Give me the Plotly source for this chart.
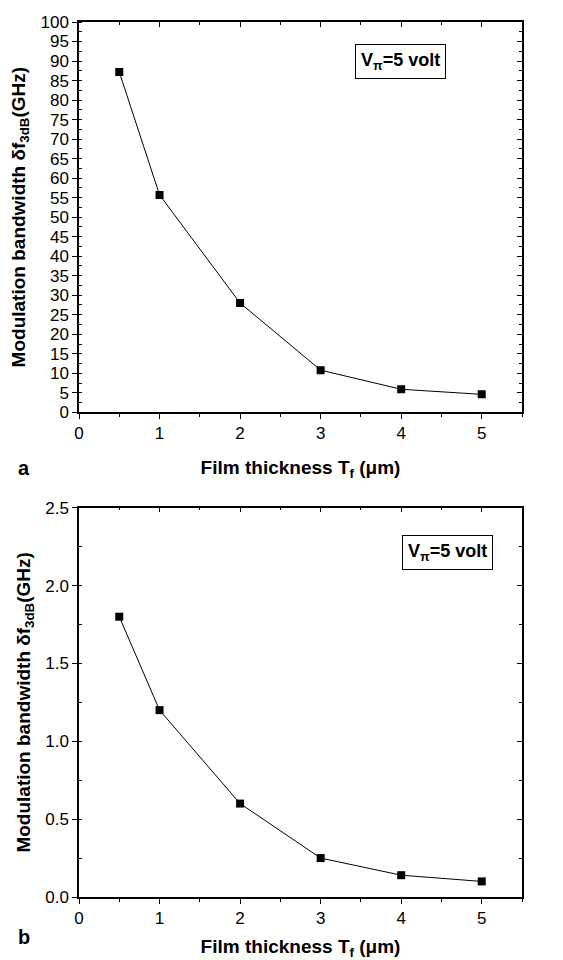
import plotly.graph_objects as go

# Data
thickness = [0.5, 1, 2, 3, 4, 5]
bw_a = [87.2, 55.7, 28.0, 10.8, 5.9, 4.6]
bw_b = [1.80, 1.20, 0.60, 0.25, 0.14, 0.10]

x_title = "<b>Film thickness T<sub>f</sub> (μm)</b>"
y_title = "<b>Modulation bandwidth δf<sub>3dB</sub>(GHz)</b>"
note = "<b>V<sub>π</sub>=5 volt</b>"

W, H = 563, 960
ML, MR, MT, MB = 79, 41, 22, 63
PW, PH = W - ML - MR, H - MT - MB

def py(px):
    return 1 - (px - MT) / PH

def pxx(px):
    return (px - ML) / PW

FONT = "Liberation Sans, Arial, sans-serif"

fig = go.Figure()
line = dict(color="black", width=1)
marker = dict(symbol="square", size=8, color="black")
fig.add_trace(go.Scatter(x=thickness, y=bw_a, mode="lines+markers", line=line,
                         marker=marker, xaxis="x", yaxis="y", showlegend=False))
fig.add_trace(go.Scatter(x=thickness, y=bw_b, mode="lines+markers", line=line,
                         marker=marker, xaxis="x3", yaxis="y3", showlegend=False))

dom_a = [py(412.3), 1.0]
dom_b = [0.0, py(507.7)]

tickfont = dict(family=FONT, size=17, color="black")
titlefont = dict(family=FONT, size=19, color="black")

def bottom_x(anchor):
    return dict(range=[0, 5.5], tickvals=[0, 1, 2, 3, 4, 5], ticks="outside", ticklen=5,
                tickwidth=1.2, tickcolor="black", showline=True, linecolor="black",
                linewidth=1.5, showgrid=False, zeroline=False, anchor=anchor,
                tickfont=tickfont, domain=[0, 1], automargin=False,
                minor=dict(dtick=0.5, tick0=0, ticks="outside", ticklen=3, tickcolor="black", tickwidth=1.2),
                title=dict(text=x_title, font=titlefont, standoff=18))

def top_x(overlay, anchor):
    return dict(range=[0, 5.5], overlaying=overlay, side="top", anchor=anchor,
                tickvals=[0, 1, 2, 3, 4, 5], ticks="inside", ticklen=5, tickwidth=1.2,
                tickcolor="black", showticklabels=False, showline=True, linecolor="black",
                linewidth=1.5, showgrid=False, zeroline=False, automargin=False,
                minor=dict(dtick=0.5, tick0=0, ticks="inside", ticklen=3, tickcolor="black", tickwidth=1.2))

def left_y(rng, dtick, minor, dom, anchor, fmt):
    return dict(range=rng, dtick=dtick, tick0=0, ticks="outside", ticklen=5, tickwidth=1.2,
                tickcolor="black", showline=True, linecolor="black", linewidth=1.5,
                showgrid=False, zeroline=False, domain=dom, anchor=anchor,
                tickfont=tickfont, tickformat=fmt, automargin=False,
                minor=dict(dtick=minor, tick0=0, ticks="inside", ticklen=3, tickcolor="black", tickwidth=1.2),
                title=dict(text=y_title, font=titlefont, standoff=10))

def right_y(rng, dtick, minor, overlay, anchor):
    return dict(range=rng, dtick=dtick, tick0=0, overlaying=overlay, side="right", anchor=anchor,
                ticks="inside", ticklen=5, tickwidth=1.2, tickcolor="black",
                showticklabels=False, showline=True, linecolor="black", linewidth=1.5,
                showgrid=False, zeroline=False, automargin=False,
                minor=dict(dtick=minor, tick0=0, ticks="inside", ticklen=3, tickcolor="black", tickwidth=1.2))

fig.update_layout(
    width=W, height=H,
    margin=dict(l=ML, r=MR, t=MT, b=MB, autoexpand=False),
    paper_bgcolor="white", plot_bgcolor="white",
    font=dict(family=FONT, color="black"),
    xaxis=bottom_x("y"),
    xaxis2=top_x("x", "y"),
    yaxis=left_y([0, 100], 5, 2.5, dom_a, "x", "d"),
    yaxis2=right_y([0, 100], 5, 2.5, "y", "x"),
    xaxis3=bottom_x("y3"),
    xaxis4=top_x("x3", "y3"),
    yaxis3=left_y([0, 2.5], 0.5, 0.25, dom_b, "x3", ".1f"),
    yaxis4=right_y([0, 2.5], 0.5, 0.25, "y3", "x3"),
)

# invisible traces to activate overlay axes
fig.add_trace(go.Scatter(x=[None], y=[None], xaxis="x2", yaxis="y2", showlegend=False))
fig.add_trace(go.Scatter(x=[None], y=[None], xaxis="x4", yaxis="y4", showlegend=False))

fig.add_annotation(text=note, x=3.99, y=89.9, xref="x", yref="y", showarrow=False,
                   font=dict(family=FONT, size=18, color="black"),
                   bordercolor="black", borderwidth=1, borderpad=5, bgcolor="white")
fig.add_annotation(text=note, x=4.58, y=2.215, xref="x3", yref="y3", showarrow=False,
                   font=dict(family=FONT, size=18, color="black"),
                   bordercolor="black", borderwidth=1, borderpad=5, bgcolor="white")

fig.add_annotation(text="<b>a</b>", x=pxx(16), y=py(468), xref="paper", yref="paper",
                   showarrow=False, font=dict(family=FONT, size=20, color="black"))
fig.add_annotation(text="<b>b</b>", x=pxx(16), y=py(950), xref="paper", yref="paper",
                   showarrow=False, font=dict(family=FONT, size=20, color="black"))

fig.write_html("out.html")
